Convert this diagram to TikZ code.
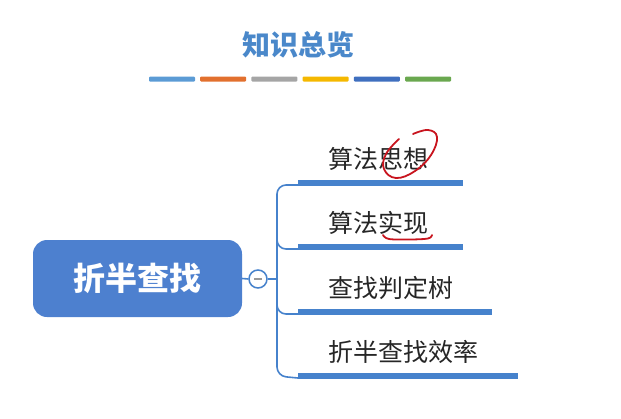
\documentclass[tikz,border=0pt]{standalone}
\usepackage{fontspec}
\setmainfont{Noto Sans CJK SC}
\usepackage{xcolor}
\usetikzlibrary{calc, positioning}

\definecolor{titleblue}{HTML}{4A88CA}
\definecolor{mainblue}{HTML}{4D80CF}
\definecolor{lineblue}{HTML}{4682CC}
\definecolor{barA}{HTML}{5B9BD5}
\definecolor{barB}{HTML}{E2702E}
\definecolor{barC}{HTML}{A5A5A5}
\definecolor{barD}{HTML}{F5B800}
\definecolor{barE}{HTML}{3F6FBF}
\definecolor{barF}{HTML}{6AA84F}
\definecolor{inkred}{HTML}{C8141E}

\begin{document}
\begin{tikzpicture}[x=1pt, y=-1pt,
    branch/.style={anchor=base west, inner sep=0pt, text=black!85,
        font=\fontsize{25}{27}\selectfont},
    underline/.style={line width=5.5pt, draw=lineblue},
    link/.style={line width=1.6pt, draw=lineblue, rounded corners=9pt}]
    \useasboundingbox (0,0) rectangle (621,418);

    % Tiêu đề
    \node[font=\bfseries\fontsize{28}{30}\selectfont, text=titleblue] (title) at (298,45) {知识总览};
    \foreach \c [count=\i from 0] in {barA,barB,barC,barD,barE,barF} {
        \fill[\c, rounded corners=1pt] ({149+51.2*\i},76.5) rectangle ++(46,5);
    }

    % Nút chính
    \node[rounded corners=14pt, fill=mainblue, minimum width=209pt, minimum height=77pt,
        text=white, font=\bfseries\fontsize{32}{34}\selectfont] (main) at (137.5,278.5) {折半查找};
    \node[circle, draw=lineblue, line width=1.5pt, fill=white, minimum size=18pt, inner sep=0pt,
        path picture={\draw[line width=1.6pt, gray!80] ($(path picture bounding box.center)+(-4,0)$) -- ($(path picture bounding box.center)+(4,0)$);}]
        (toggle) at (258,279) {};
    \draw[lineblue, line width=1.6pt] (main.east) -- (toggle.west);

    % Các nhánh
    \coordinate (u1) at (298,183);
    \coordinate (u2) at (298,247);
    \coordinate (u3) at (298,312);
    \coordinate (u4) at (298,376);
    \coordinate (trunk) at (277,279);
    \draw[underline] (u1) -- ++(165,0);
    \draw[underline] (u2) -- ++(165,0);
    \draw[underline] (u3) -- ++(194,0);
    \draw[underline] (u4) -- ++(220,0);
    \draw[link] (toggle.east) -- (trunk);
    \draw[link] ($(u1)+(0,2)$) -| ($(u4)+(-21,0)$) -- ($(u4)+(0,2)$);
    \draw[link] ($(u2)+(-21,-30)$) |- ($(u2)+(0,2)$);
    \draw[link] ($(u3)+(-21,-30)$) |- ($(u3)+(0,2)$);

    \node[branch] (b1) at ($(u1)+(30,-15)$) {算法思想};
    \node[branch] (b2) at ($(u2)+(30,-15)$) {算法实现};
    \node[branch] (b3) at ($(u3)+(30,-15)$) {查找判定树};
    \node[branch] (b4) at ($(u4)+(30,-15)$) {折半查找效率};

    % Nét bút đỏ
    \draw[inkred, line width=1.8pt, line cap=round] plot[smooth, tension=0.7] coordinates
        {(399,139) (386,154) (384,169) (396,178) (415,171) (431,155) (437,137) (428,130) (413,134)};
    \draw[inkred, line width=1.8pt, line cap=round] plot[smooth, tension=0.6] coordinates
        {(383,235) (389,239) (410,239.5) (428,238.5) (432,235)};
\end{tikzpicture}
\end{document}
